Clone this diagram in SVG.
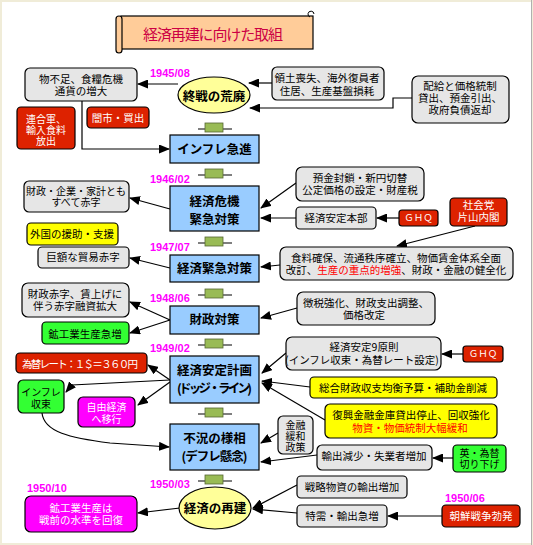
<svg xmlns="http://www.w3.org/2000/svg" width="533" height="545" viewBox="0 0 533 545">
<style>
.bx{stroke:#000;stroke-width:1.2}
.g{fill:#e6e6e6}
.b{fill:#99ccff}
.r{fill:#dd2200}
.m{fill:#ff00ff}
.y{fill:#ffff00}
.gr{fill:#33ff33}
.el{fill:#ffff99;stroke:#000;stroke-width:1.2}
text{font-family:"Noto Sans CJK JP","Noto Sans CJK SC",sans-serif;font-size:10.5px;text-anchor:middle;fill:#000}
.s{font-size:10px}
.tb{font-size:12.5px;font-weight:bold}
.w{fill:#fff}
.red{fill:#ff0000}
.d{font-family:"Liberation Sans",Arial,sans-serif;font-size:11px;font-weight:bold;fill:#ff00ff;text-anchor:start}
.c line,.c path,.c polyline{stroke:#000;stroke-width:1.2;fill:none;marker-end:url(#a)}
</style>
<defs>
<marker id="a" markerWidth="11" markerHeight="9" refX="10" refY="4.5" orient="auto" markerUnits="userSpaceOnUse"><path d="M0,0 L11,4.5 L0,9 z" fill="#000"/></marker>
<g id="dn"><line x1="-16" y1="6" x2="18" y2="6" stroke="#000" stroke-width="1.2"/><rect x="-9" y="0" width="18" height="9" fill="#99bb55" stroke="#556633" stroke-width="0.8"/></g>
</defs>
<rect width="533" height="545" fill="#f0ecd8"/>
<rect x="2" y="2" width="529" height="541" fill="#fff"/>
<line x1="531.5" y1="0" x2="531.5" y2="545" stroke="#b0b0b0"/>

<g id="title">
<rect x="121" y="16" width="192" height="33" fill="#ffcc99" stroke="#000" stroke-width="1.2"/>
<rect x="116" y="16" width="6" height="37" rx="3" fill="#ffcc99" stroke="#000" stroke-width="1.2"/>
<path d="M310,17 a3,3 0 1 1 4,-3" fill="none" stroke="#000"/>
<text x="213" y="40" style="font-size:15px;fill:#cc0044" textLength="140">経済再建に向けた取組</text>
</g>

<g id="dates">
<text class="d" x="150" y="77">1945/08</text>
<text class="d" x="150" y="183">1946/02</text>
<text class="d" x="150" y="251">1947/07</text>
<text class="d" x="150" y="302">1948/06</text>
<text class="d" x="150" y="352">1949/02</text>
<text class="d" x="150" y="488">1950/03</text>
<text class="d" x="27" y="492">1950/10</text>
<text class="d" x="445" y="502">1950/06</text>
</g>

<g id="steps">
<use href="#dn" x="214" y="123"/>
<use href="#dn" x="214" y="169"/>
<use href="#dn" x="214" y="237"/>
<use href="#dn" x="214" y="289"/>
<use href="#dn" x="214" y="339"/>
<use href="#dn" x="214" y="408"/>
<use href="#dn" x="214" y="475"/>
</g>

<g class="c" id="connectors">
<line x1="178" y1="84" x2="138" y2="84"/>
<path d="M82,101 V149 H169"/>
<line x1="272" y1="83" x2="249" y2="83"/>
<path d="M412,98 H393 V108 H250"/>
<line x1="170" y1="209" x2="130" y2="198"/>
<line x1="170" y1="268" x2="130" y2="258"/>
<line x1="296" y1="183" x2="261" y2="208"/>
<line x1="296" y1="218" x2="261" y2="218"/>
<line x1="399" y1="218" x2="377" y2="218"/>
<line x1="475" y1="226" x2="397" y2="246"/>
<line x1="280" y1="265" x2="261" y2="267"/>
<line x1="170" y1="320" x2="130" y2="302"/>
<line x1="170" y1="320" x2="130" y2="333"/>
<line x1="297" y1="308" x2="261" y2="318"/>
<line x1="286" y1="353" x2="262" y2="373"/>
<line x1="463" y1="354" x2="442" y2="354"/>
<line x1="310" y1="387" x2="262" y2="381"/>
<line x1="325" y1="420" x2="262" y2="383"/>
<line x1="170" y1="380" x2="148" y2="365"/>
<polyline points="170,380 72,385 66,392"/>
<line x1="170" y1="382" x2="138" y2="405"/>
<path d="M42,413 C44,432 70,438 110,443 L169,447"/>
<line x1="278" y1="433" x2="261" y2="443"/>
<line x1="317" y1="455" x2="261" y2="462"/>
<line x1="453" y1="458" x2="433" y2="458"/>
<line x1="297" y1="485" x2="253" y2="508"/>
<line x1="297" y1="513" x2="253" y2="509"/>
<line x1="442" y1="516" x2="388" y2="516"/>
<line x1="180" y1="508" x2="138" y2="513"/>
</g>

<g id="n-shusen"><ellipse class="el" cx="214" cy="95" rx="36" ry="18"/><text class="tb" x="214" y="101">終戦の荒廃</text></g>
<g id="n-inflation"><rect class="bx b" x="170" y="135" width="89" height="28"/><text class="tb" x="214.5" y="154">インフレ急進</text></g>
<g id="n-kiki"><rect class="bx b" x="170" y="186" width="89" height="45"/><text class="tb" x="214.5" y="206">経済危機</text><text class="tb" x="214.5" y="224">緊急対策</text></g>
<g id="n-kinkyu"><rect class="bx b" x="170" y="255" width="89" height="27"/><text class="tb" x="214.5" y="273">経済緊急対策</text></g>
<g id="n-zaisei"><rect class="bx b" x="170" y="306" width="89" height="28"/><text class="tb" x="214.5" y="324">財政対策</text></g>
<g id="n-dodge"><rect class="bx b" x="170" y="356" width="89" height="47"/><text class="tb" x="214.5" y="375">経済安定計画</text><text class="tb" x="214.5" y="393" textLength="75">(ドッジ・ライン)</text></g>
<g id="n-fukyo"><rect class="bx b" x="170" y="424" width="89" height="46"/><text class="tb" x="214.5" y="443">不況の様相</text><text class="tb" x="214.5" y="461" textLength="66">(デフレ懸念)</text></g>
<g id="n-saiken"><ellipse class="el" cx="215" cy="508" rx="36" ry="21"/><text class="tb" x="215" y="513">経済の再建</text></g>

<g id="n1"><rect class="bx g" x="25" y="68" width="112" height="33" rx="5"/><text x="81" y="83">物不足、食糧危機</text><text x="81" y="95">通貨の増大</text></g>
<g id="n-rengo"><rect class="bx r" x="17" y="107" width="58" height="42" rx="4"/><text class="w s" x="46" y="123">連合軍、</text><text class="w s" x="46" y="134">輸入食料</text><text class="w s" x="46" y="145">放出</text></g>
<g id="n-yami"><rect class="bx r" x="87" y="107" width="62" height="21" rx="4"/><text class="w" x="118" y="122">闇市・買出</text></g>
<g id="n-ryodo"><rect class="bx g" x="272" y="67" width="112" height="33" rx="5"/><text x="327" y="82">領土喪失、海外復員者</text><text x="327" y="95">住居、生産基盤損耗</text></g>
<g id="n-haikyu"><rect class="bx g" x="412" y="76" width="97" height="47" rx="6"/><text x="460" y="90">配給と価格統制</text><text x="460" y="102">貸出、預金引出、</text><text x="460" y="114">政府負債返却</text></g>
<g id="n-akaji"><rect class="bx g" x="24" y="181" width="105" height="31" rx="5"/><text class="s" x="76" y="195">財政・企業・家計とも</text><text class="s" x="76" y="206">すべて赤字</text></g>
<g id="n-gaikoku"><rect class="bx y" x="27" y="223" width="91" height="22" rx="4"/><text x="72" y="238">外国の援助・支援</text></g>
<g id="n-boeki"><rect class="bx g" x="38" y="247" width="91" height="21" rx="4"/><text x="83" y="261">巨額な貿易赤字</text></g>
<g id="n-yokin"><rect class="bx g" x="296" y="167" width="128" height="34" rx="6"/><text x="360" y="182">預金封鎖・新円切替</text><text x="360" y="194">公定価格の設定・財産税</text></g>
<g id="n-antei"><rect class="bx g" x="296" y="207" width="80" height="22" rx="4"/><text x="336" y="222">経済安定本部</text></g>
<g id="n-ghq1"><rect class="bx r" x="399" y="210" width="39" height="16" rx="3"/><text class="w" x="418.5" y="221" style="font-size:9.5px">ＧＨＱ</text></g>
<g id="n-katayama"><rect class="bx r" x="450" y="198" width="57" height="28" rx="4"/><text class="w" x="478.5" y="209">社会党</text><text class="w" x="478.5" y="221">片山内閣</text></g>
<g id="n-shokuryo"><rect class="bx g" x="280" y="247" width="233" height="33" rx="6"/><text x="396" y="262">食料確保、流通秩序確立、物価賃金体系全面</text><text x="396" y="274">改訂、<tspan class="red">生産の重点的増強</tspan>、財政・金融の健全化</text></g>
<g id="n-zaiseiakaji"><rect class="bx g" x="22" y="283" width="107" height="34" rx="6"/><text x="75" y="298">財政赤字、賃上げに</text><text x="75" y="309.5">伴う赤字融資拡大</text></g>
<g id="n-kogyo"><rect class="bx gr" x="42" y="322" width="87" height="22" rx="4"/><text x="85" y="338">鉱工業生産急増</text></g>
<g id="n-chozei"><rect class="bx g" x="297" y="292" width="138" height="33" rx="6"/><text x="366" y="306.5">徴税強化、財政支出調整、</text><text x="364" y="318.5">価格改定</text></g>
<g id="n-9gensoku"><rect class="bx g" x="286" y="337" width="155" height="33" rx="6"/><text x="364" y="351">経済安定9原則</text><text x="362" y="363.5">(インフレ収束・為替レート設定)</text></g>
<g id="n-ghq2"><rect class="bx r" x="463" y="346" width="40" height="16" rx="3"/><text class="w" x="483" y="357" style="font-size:9.5px">ＧＨＱ</text></g>
<g id="n-sogo"><rect class="bx y" x="310" y="377" width="187" height="21" rx="4"/><text x="403" y="392">総合財政収支均衡予算・補助金削減</text></g>
<g id="n-fukko"><rect class="bx y" x="325" y="404" width="172" height="34" rx="5"/><text x="411" y="419">復興金融金庫貸出停止、回収強化</text><text class="red" x="410" y="431.5">物資・物価統制大幅緩和</text></g>
<g id="n-kawase"><rect class="bx r" x="16" y="353" width="131" height="20" rx="4"/><text class="w" x="80" y="368" textLength="116">為替レート：１＄＝３６０円</text></g>
<g id="n-inflashusoku"><rect class="bx gr" x="18" y="380" width="46" height="33" rx="5"/><text class="s" x="41" y="396">インフレ</text><text class="s" x="41" y="408">収束</text></g>
<g id="n-jiyu"><rect class="bx m" x="78" y="397" width="57" height="30" rx="5"/><text class="w s" x="106.5" y="411">自由経済</text><text class="w s" x="106.5" y="422.5">へ移行</text></g>
<g id="n-kinyu"><rect class="bx g" x="278" y="416" width="35" height="38" rx="5"/><text class="s" x="295.5" y="429">金融</text><text class="s" x="295.5" y="440">緩和</text><text class="s" x="295.5" y="451">政策</text></g>
<g id="n-yushutsu"><rect class="bx g" x="317" y="445" width="115" height="25" rx="5"/><text x="374" y="460">輸出減少・失業者増加</text></g>
<g id="n-ei"><rect class="bx gr" x="453" y="445" width="53" height="27" rx="4"/><text class="s" x="479.5" y="457">英・為替</text><text class="s" x="479.5" y="468">切り下げ</text></g>
<g id="n-senryaku"><rect class="bx g" x="297" y="476" width="110" height="22" rx="4"/><text x="352" y="491">戦略物資の輸出増加</text></g>
<g id="n-tokuju"><rect class="bx g" x="297" y="505" width="90" height="22" rx="4"/><text x="342" y="520">特需・輸出急増</text></g>
<g id="n-chosen"><rect class="bx r" x="442" y="505" width="78" height="22" rx="4"/><text class="w" x="481" y="520">朝鮮戦争勃発</text></g>
<g id="n-kaifuku"><rect class="bx m" x="25" y="496" width="112" height="36" rx="6"/><text class="w" x="81" y="512">鉱工業生産は</text><text class="w" x="81" y="524">戦前の水準を回復</text></g>
</svg>
